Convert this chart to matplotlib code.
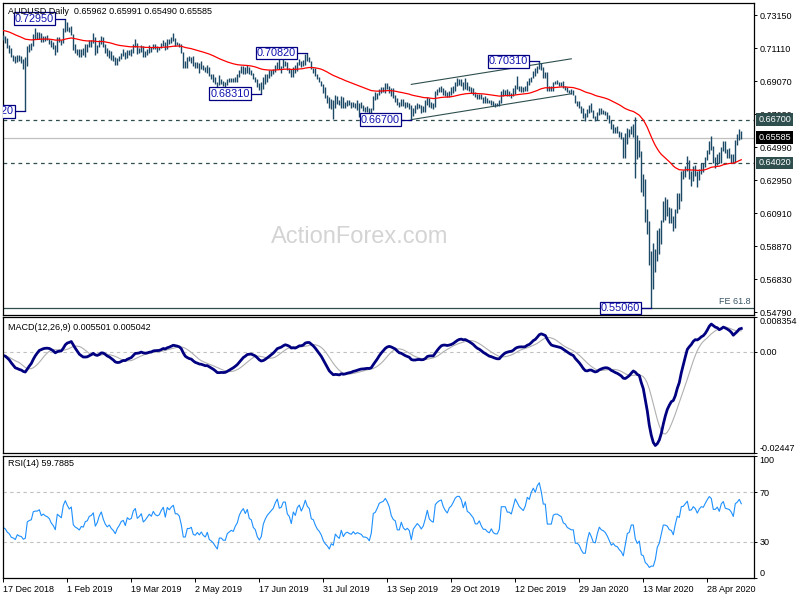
import numpy as np
import matplotlib.pyplot as plt

plt.rcParams['font.family'] = ['Liberation Sans', 'DejaVu Sans']

W, H = 800, 600

# === AUDUSD daily bars, 17 Dec 2018 .. 21 May 2020 (pips, x 1e-4) ===
high = [
    7195, 7190, 7175, 7130, 7110, 7070, 7065, 7070, 7070, 7065,  # Dec 18
    7045, 7060, 7125, 7140, 7145, 7200, 7235, 7210, 7210, 7205, 7185, 7185, 7195, 7170, 7165, 7150, 7130, 7180, 7180, 7165, 7235, 7295,
    7275, 7245, 7250, 7200, 7135, 7105, 7105, 7105, 7110, 7135, 7135, 7160, 7160, 7205, 7180, 7130, 7165, 7185, 7180, 7140,
    7110, 7100, 7095, 7070, 7060, 7050, 7065, 7085, 7105, 7090, 7100, 7100, 7105, 7135, 7168, 7145, 7115, 7130, 7125, 7095, 7105,
    7130, 7120, 7140, 7135, 7125, 7120, 7145, 7165, 7150, 7170, 7170, 7180, 7207, 7175, 7150, 7145, 7135, 7090, 7035, 7055, 7065, 7060,
    7065, 7025, 7025, 7020, 7030, 7010, 6995, 7010, 6995, 6955, 6950, 6935, 6900, 6945, 6920, 6910, 6905, 6920, 6925, 6930, 6925, 6935, 6950,
    6975, 7000, 7000, 6995, 7005, 6995, 6975, 6960, 6935, 6920, 6895, 6900, 6935, 6950, 6950, 6975, 6975, 6980, 7005, 7025,
    7045, 7000, 7045, 7030, 7025, 6990, 6985, 6995, 7010, 7025, 7045, 7035, 7040, 7075, 7082, 7055, 7035, 6990, 6990, 6955, 6935, 6910, 6890,
    6870, 6825, 6810, 6795, 6790, 6820, 6815, 6790, 6815, 6810, 6780, 6790, 6790, 6780, 6780, 6775, 6790, 6775, 6780, 6760, 6750, 6755,
    6740, 6740, 6815, 6840, 6835, 6860, 6870, 6870, 6895, 6895, 6875, 6865, 6865, 6820, 6805, 6780, 6800, 6800, 6780, 6780, 6770,
    6760, 6745, 6760, 6775, 6765, 6760, 6755, 6790, 6810, 6805, 6780, 6770, 6845, 6860, 6870, 6875, 6865, 6855, 6840, 6850, 6870, 6880, 6900,
    6930, 6920, 6920, 6905, 6925, 6905, 6875, 6870, 6865, 6840, 6830, 6830, 6830, 6810, 6815, 6805, 6790, 6790, 6785, 6775, 6775,
    6790, 6850, 6860, 6855, 6860, 6845, 6835, 6865, 6885, 6939, 6880, 6880, 6870, 6880, 6910, 6925, 6935, 6970, 6990, 7000, 7031,
    7020, 6995, 6965, 6965, 6880, 6880, 6905, 6910, 6915, 6905, 6905, 6910, 6880, 6870, 6855, 6860, 6855, 6825, 6785, 6785, 6755, 6745,
    6710, 6735, 6760, 6775, 6730, 6695, 6720, 6745, 6740, 6730, 6725, 6715, 6700, 6665, 6640, 6625, 6630, 6600, 6595, 6565,
    6585, 6620, 6610, 6630, 6640, 6685, 6575, 6545, 6475, 6335, 6305, 6120, 6045, 5855, 5905, 5870, 5990, 6000, 6050, 6165, 6190, 6180,
    6130, 6125, 6075, 6115, 6215, 6215, 6350, 6360, 6385, 6445, 6420, 6350, 6385, 6390, 6355, 6365, 6400, 6400, 6440, 6485, 6540, 6570,
    6505, 6440, 6460, 6470, 6500, 6535, 6540, 6490, 6495, 6460, 6455, 6545, 6580, 6615, 6599,
]
low = [
    7160, 7145, 7115, 7085, 7055, 7035, 7020, 7025, 7035, 7020,
    6980, 6722, 7000, 7090, 7100, 7125, 7170, 7170, 7170, 7150, 7150, 7155, 7160, 7140, 7120, 7105, 7070, 7090, 7150, 7130, 7145, 7210,
    7215, 7210, 7195, 7100, 7080, 7070, 7060, 7055, 7070, 7055, 7090, 7120, 7120, 7145, 7070, 7080, 7120, 7135, 7120, 7080,
    7065, 7050, 7040, 7035, 7010, 7005, 7030, 7045, 7065, 7045, 7050, 7070, 7065, 7080, 7120, 7075, 7080, 7090, 7060, 7055, 7070,
    7085, 7090, 7105, 7105, 7090, 7100, 7110, 7125, 7100, 7105, 7140, 7145, 7155, 7125, 7130, 7120, 7085, 6990, 6990, 6990, 7035, 7020,
    7000, 6990, 6990, 6960, 6985, 6975, 6965, 6960, 6940, 6920, 6905, 6890, 6865, 6885, 6890, 6880, 6865, 6885, 6900, 6900, 6900, 6900, 6905,
    6935, 6960, 6955, 6955, 6960, 6950, 6945, 6920, 6900, 6870, 6855, 6831, 6860, 6890, 6905, 6930, 6940, 6950, 6965, 6980,
    6980, 6960, 6990, 7000, 6975, 6960, 6935, 6935, 6960, 6970, 7010, 6995, 7000, 7010, 7035, 7025, 6980, 6960, 6940, 6920, 6905, 6875, 6835,
    6805, 6775, 6745, 6735, 6677, 6740, 6765, 6760, 6745, 6745, 6745, 6755, 6760, 6745, 6750, 6745, 6730, 6688, 6740, 6725, 6715, 6720,
    6688, 6690, 6730, 6790, 6795, 6825, 6835, 6840, 6835, 6860, 6835, 6815, 6805, 6780, 6760, 6750, 6755, 6755, 6745, 6750, 6735,
    6670, 6690, 6710, 6735, 6740, 6710, 6715, 6715, 6760, 6750, 6740, 6735, 6750, 6820, 6840, 6840, 6820, 6815, 6810, 6810, 6825, 6835, 6850,
    6880, 6885, 6880, 6855, 6860, 6855, 6845, 6835, 6820, 6810, 6800, 6800, 6795, 6770, 6770, 6770, 6770, 6760, 6755, 6750, 6755,
    6755, 6770, 6815, 6825, 6815, 6815, 6805, 6815, 6830, 6860, 6845, 6840, 6840, 6845, 6850, 6885, 6900, 6925, 6940, 6960, 6985,
    6975, 6930, 6925, 6850, 6850, 6850, 6850, 6890, 6890, 6880, 6880, 6865, 6855, 6840, 6835, 6830, 6820, 6770, 6755, 6740, 6710, 6680,
    6660, 6685, 6710, 6720, 6680, 6660, 6670, 6700, 6705, 6705, 6700, 6675, 6650, 6615, 6585, 6585, 6585, 6560, 6550, 6435,
    6435, 6520, 6560, 6580, 6565, 6310, 6425, 6440, 6220, 6200, 6035, 5960, 5770, 5506, 5620, 5730, 5795, 5840, 5900, 6040, 6050, 6075,
    6030, 6030, 5980, 6000, 6095, 6120, 6170, 6300, 6315, 6350, 6300, 6260, 6290, 6320, 6255, 6295, 6335, 6345, 6375, 6420, 6460, 6485,
    6400, 6370, 6390, 6400, 6400, 6475, 6465, 6430, 6435, 6405, 6400, 6400, 6515, 6545, 6549,
]
close = [
    7180, 7165, 7125, 7105, 7060, 7050, 7030, 7060, 7045, 7040,
    7010, 7015, 7115, 7125, 7130, 7190, 7195, 7195, 7205, 7170, 7180, 7170, 7165, 7155, 7130, 7115, 7090, 7170, 7160, 7150, 7230, 7270,
    7245, 7225, 7240, 7120, 7100, 7090, 7075, 7095, 7090, 7120, 7125, 7150, 7155, 7170, 7090, 7110, 7150, 7175, 7130, 7095,
    7075, 7085, 7060, 7045, 7020, 7045, 7060, 7080, 7085, 7055, 7095, 7085, 7090, 7130, 7145, 7095, 7105, 7120, 7075, 7085, 7100,
    7115, 7105, 7130, 7115, 7110, 7115, 7135, 7150, 7110, 7160, 7150, 7165, 7175, 7140, 7140, 7130, 7090, 7010, 7010, 7045, 7045, 7050,
    7005, 7000, 7010, 6995, 7005, 6985, 6975, 6990, 6945, 6935, 6920, 6895, 6870, 6905, 6905, 6890, 6890, 6910, 6915, 6920, 6915, 6930, 6940,
    6965, 6980, 6990, 6975, 6990, 6960, 6955, 6925, 6915, 6880, 6860, 6870, 6910, 6930, 6945, 6955, 6965, 6975, 7000, 7020,
    6990, 6995, 7020, 7020, 6980, 6970, 6940, 6990, 6975, 7015, 7030, 7005, 7030, 7070, 7045, 7035, 6985, 6980, 6950, 6925, 6910, 6885, 6840,
    6810, 6790, 6755, 6775, 6760, 6805, 6785, 6770, 6805, 6755, 6770, 6775, 6765, 6760, 6770, 6755, 6760, 6755, 6750, 6735, 6735, 6730,
    6715, 6735, 6805, 6810, 6830, 6855, 6860, 6865, 6880, 6870, 6855, 6825, 6810, 6805, 6765, 6765, 6790, 6765, 6755, 6760, 6750,
    6700, 6735, 6745, 6755, 6745, 6730, 6740, 6765, 6800, 6765, 6755, 6750, 6835, 6850, 6860, 6865, 6840, 6825, 6815, 6840, 6850, 6870, 6895,
    6905, 6905, 6895, 6870, 6900, 6865, 6860, 6850, 6840, 6815, 6815, 6825, 6805, 6790, 6790, 6780, 6775, 6785, 6770, 6765, 6765,
    6775, 6845, 6845, 6845, 6830, 6830, 6825, 6850, 6880, 6870, 6860, 6855, 6850, 6865, 6900, 6895, 6930, 6955, 6945, 6990, 7015,
    6990, 6950, 6950, 6860, 6860, 6860, 6900, 6905, 6905, 6900, 6895, 6870, 6865, 6850, 6845, 6840, 6840, 6770, 6770, 6755, 6720, 6690,
    6690, 6725, 6750, 6725, 6685, 6680, 6710, 6735, 6720, 6715, 6705, 6685, 6655, 6620, 6625, 6605, 6600, 6575, 6555, 6510,
    6545, 6585, 6590, 6620, 6620, 6525, 6480, 6490, 6290, 6270, 6060, 5970, 5780, 5790, 5785, 5830, 5925, 5960, 6045, 6140, 6140, 6125,
    6075, 6065, 6000, 6100, 6195, 6180, 6330, 6335, 6375, 6415, 6320, 6325, 6370, 6350, 6305, 6355, 6385, 6380, 6430, 6480, 6525, 6510,
    6420, 6420, 6445, 6410, 6495, 6525, 6470, 6465, 6460, 6440, 6405, 6535, 6555, 6590, 6558,
]

date_labels = ["17 Dec 2018", "1 Feb 2019", "19 Mar 2019", "2 May 2019", "17 Jun 2019",
               "31 Jul 2019", "13 Sep 2019", "29 Oct 2019", "12 Dec 2019", "29 Jan 2020",
               "13 Mar 2020", "28 Apr 2020"]
date_bars = [0, 32, 64, 96, 128, 160, 192, 224, 256, 288, 320, 352]

price_ticks = [0.73150, 0.71110, 0.69070, 0.67030, 0.64990, 0.62950,
               0.60910, 0.58870, 0.56830, 0.54790]

# swing labels: bar index, which side
swing_bars = [11, 31, 129, 152, 204, 268, 324]
swing_side = ['low', 'high', 'low', 'high', 'low', 'high', 'low']

level_lines = [0.6670, 0.6402]
last_price = 0.65585
fe_level = 0.5506
chan_bars = [204, 284]
chan_upper = [0.6888, 0.7046]
chan_lower = [0.6670, 0.6830]

# indicator seeds (values before the first bar)
ma_seed = 0.7222
ema12_seed, ema26_seed = 0.7196, 0.7205
prev_close_seed = 0.7185
rsi_up_seed, rsi_dn_seed = 0.0020, 0.0028

# === indicators ===
hi = np.array(high) / 1e4
lo = np.array(low) / 1e4
c = np.array(close) / 1e4
n = len(c)
bars = np.arange(n)

ema55 = []
e = ma_seed
for v in c:
    e += (v - e) * 2 / 56
    ema55.append(e)

e12, e26 = ema12_seed, ema26_seed
macd = []
for v in c:
    e12 += (v - e12) * 2 / 13
    e26 += (v - e26) * 2 / 27
    macd.append(e12 - e26)
macd = np.array(macd)
signal = np.array([macd[max(0, i - 8):i + 1].mean() for i in range(n)])

up, dn = rsi_up_seed, rsi_dn_seed
rsi = []
prev = prev_close_seed
for v in c:
    d = v - prev
    up = (up * 13 + max(d, 0)) / 14
    dn = (dn * 13 + max(-d, 0)) / 14
    rsi.append(100 - 100 / (1 + up / dn))
    prev = v

# === figure ===
BAR = '#1c4966'
NAVY = '#000080'
SLATE = '#2f4f4f'

fig = plt.figure(figsize=(W / 100, H / 100), dpi=100)


def px_axes(x0, y0, x1, y1):
    return fig.add_axes([x0 / W, 1 - y1 / H, (x1 - x0) / W, (y1 - y0) / H])


ax = px_axes(2.5, 3, 754, 315)
ax_macd = px_axes(2.5, 317, 754, 452.7)
ax_rsi = px_axes(2.5, 455.7, 754, 578.3)

for a in (ax, ax_macd, ax_rsi):
    a.set_xlim(-0.4, 375.35)
    for s in a.spines.values():
        s.set_linewidth(0.9)
        s.set_color('black')
    a.yaxis.tick_right()
    a.tick_params(axis='y', direction='out', length=2.5, width=0.7, pad=1.5,
                  labelsize=6.5)
    a.set_xticks([])

# --- main price panel ---
ax.set_ylim(0.54623, 0.73910)
ax.vlines(bars, lo, hi, color=BAR, lw=1.0, zorder=3)
ax.plot(bars, ema55, color='red', lw=0.9, zorder=4)

for lv in level_lines:
    ax.axhline(lv, color=SLATE, lw=0.9, ls=(0, (3, 3)), zorder=2)
ax.axhline(last_price, color='#c0c0c0', lw=0.9, zorder=1)
ax.axhline(fe_level, color=SLATE, lw=0.9, zorder=2)
ax.plot(chan_bars, chan_upper, color=SLATE, lw=0.8, zorder=2)
ax.plot(chan_bars, chan_lower, color=SLATE, lw=0.8, zorder=2)

ax.set_yticks(price_ticks)
ax.set_yticklabels([f"{p:.5f}" for p in price_ticks])

ytr = ax.get_yaxis_transform()
for lv, bg in [(level_lines[0], SLATE), (last_price, 'black'), (level_lines[1], SLATE)]:
    ax.text(1.0055, lv, f"{lv:.5f}", transform=ytr, ha='left', va='center',
            fontsize=6.5, color='white', clip_on=False, zorder=10,
            bbox=dict(boxstyle='square,pad=0.2', fc=bg, ec='none'))

for b, side in zip(swing_bars, swing_side):
    p = lo[b] if side == 'low' else hi[b]
    ax.plot([b - 5, b], [p, p], color=NAVY, lw=0.9, zorder=5)
    ax.text(b - 5.6, p, f"{p:.5f}", ha='right', va='center', fontsize=7.8,
            color='#1010b0', zorder=6, clip_on=True,
            bbox=dict(boxstyle='square,pad=0.12', fc='white', ec=NAVY, lw=0.9))

ax.text(373.8, fe_level + 0.0012, "FE 61.8", ha='right', va='bottom',
        fontsize=6.5, color='#3a5565')
ax.text(0.475, 0.25, "ActionForex.com", transform=ax.transAxes, ha='center',
        va='center', fontsize=17, color='#d4d4d4', zorder=0)
ax.text(5.5 / 751.5, 1 - 8 / 312, "AUDUSD Daily  0.65962 0.65991 0.65490 0.65585",
        transform=ax.transAxes, ha='left', va='center', fontsize=6.5, zorder=8)

# --- MACD panel ---
macd_lo, macd_hi = -0.02447, 0.008354
ax_macd.set_ylim(macd_lo, macd_hi)
ax_macd.axhline(0, color='#c0c0c0', lw=0.8, ls=(0, (3, 3)))
ax_macd.plot(bars, signal, color='#b0b0b0', lw=0.8)
ax_macd.plot(bars, macd, color=NAVY, lw=2.0)
ax_macd.set_yticks([macd_hi, 0, macd_lo])
lbls = ax_macd.set_yticklabels(["0.008354", "0.00", "-0.02447"])
lbls[0].set_va('top')
lbls[2].set_va('bottom')
ax_macd.text(5.5 / 751.5, 1 - 10 / 135.7, "MACD(12,26,9) 0.005501 0.005042",
             transform=ax_macd.transAxes, ha='left', va='center', fontsize=6.5)

# --- RSI panel ---
ax_rsi.set_ylim(1.4, 100)
for lv in (70, 30):
    ax_rsi.axhline(lv, color='#c0c0c0', lw=0.8, ls=(0, (3, 3)))
ax_rsi.plot(bars, rsi, color='#1e90ff', lw=0.8)
ax_rsi.set_yticks([100, 70, 30, 0])
lbls = ax_rsi.set_yticklabels(["100", "70", "30", "0"])
lbls[0].set_va('top')
lbls[3].set_va('bottom')
ax_rsi.text(5.5 / 751.5, 1 - 8 / 122.6, "RSI(14) 59.7885",
            transform=ax_rsi.transAxes, ha='left', va='center', fontsize=6.5)

ax_rsi.set_xticks(date_bars)
ax_rsi.set_xticklabels(date_labels, ha='left')
ax_rsi.tick_params(axis='x', direction='out', length=3, width=0.7, pad=2,
                   labelsize=6.5)

fig.savefig("out.png", dpi=100)
